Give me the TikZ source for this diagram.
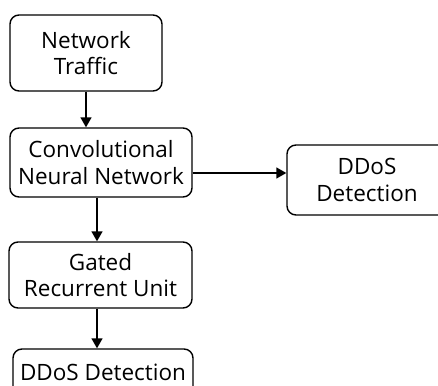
\documentclass[tikz,border=0pt]{standalone}
\usepackage{fontspec}
\setmainfont{Open Sans}
\usetikzlibrary{arrows.meta}
\begin{document}
\begin{tikzpicture}[x=1pt,y=-1pt,
  box/.style={draw, line width=1.4pt, rounded corners=9pt, align=center,
    inner sep=0pt, font=\fontsize{22.5}{26.5}\selectfont},
  arr/.style={line width=1.4pt, -{Triangle[length=10pt,width=11pt]}}]
\useasboundingbox (0,0) rectangle (438,385);
\node[box, minimum width=152pt, minimum height=76pt] (traffic) at (86,53) {Network\\Traffic};
\node[box, minimum width=182pt, minimum height=69pt] (cnn) at (101,162.5) {Convolutional\\Neural Network};
\node[box, minimum width=183pt, minimum height=66pt] (gru) at (100.5,275) {Gated\\Recurrent Unit};
\node[box, minimum width=180pt, minimum height=46pt] (ddos) at (103,372) {DDoS Detection};
\node[box, minimum width=160pt, minimum height=70pt, text width=150pt] (ddosr) at (367,180) {DDoS\\Detection};
\draw[arr] (traffic.south) -- (traffic.south |- cnn.north);
\draw[arr] ([xshift=-4pt]cnn.south) -- ([xshift=-4pt]cnn.south |- gru.north);
\draw[arr] ([xshift=-3.5pt]gru.south) -- ([xshift=-3.5pt]gru.south |- ddos.north);
\draw[arr] ([yshift=-10.5pt]cnn.east) -- ([yshift=-10.5pt]cnn.east -| ddosr.west);
\end{tikzpicture}
\end{document}
